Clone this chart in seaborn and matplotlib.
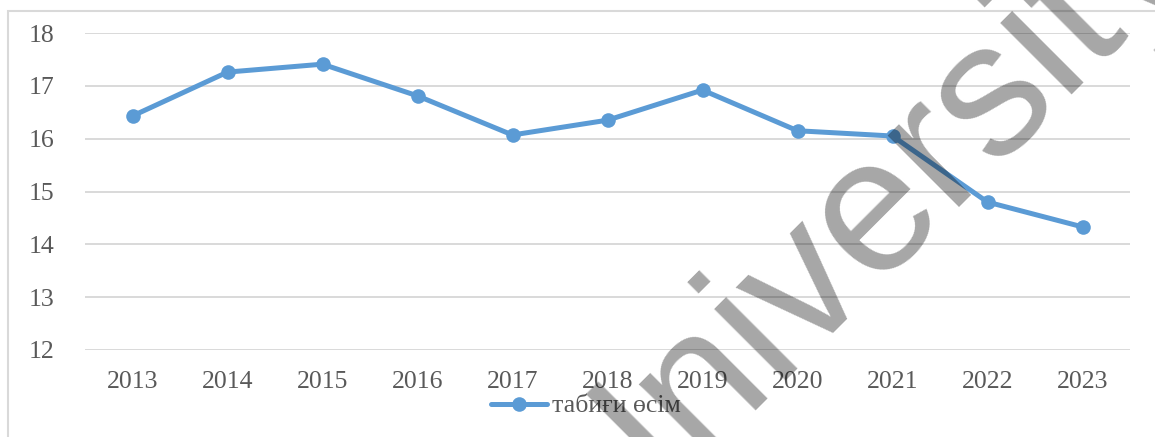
import matplotlib
matplotlib.use("Agg")
import matplotlib.pyplot as plt
import seaborn as sns
import pandas as pd
from matplotlib.patches import Rectangle

# Дерек: табиғи өсім (‰)
years = ["2013", "2014", "2015", "2016", "2017", "2018",
         "2019", "2020", "2021", "2022", "2023"]
natural_growth = [16.43, 17.26, 17.41, 16.81, 16.07, 16.35,
                  16.92, 16.15, 16.05, 14.80, 14.33]
y_ticks = [12, 13, 14, 15, 16, 17, 18]
series_name = "табиғи өсім"

df = pd.DataFrame({"year": years, "value": natural_growth, "series": series_name})

sns.set_style("white")
plt.rcParams["font.family"] = ["Liberation Serif", "DejaVu Serif"]

fig = plt.figure(figsize=(11.55, 4.37), dpi=100)
W, H = 1155, 437
ax = fig.add_axes([85 / W, 1 - 350 / H, (1130 - 85) / W, (350 - 33) / H])

# рамка диаграммы (выходит за край картинки)
fig.patches.append(Rectangle((8 / W, -0.1), 1.2, 1 - 11 / H + 0.1,
                             transform=fig.transFigure, fill=False,
                             edgecolor="#d9d9d9", linewidth=1.5))

sns.lineplot(data=df, x="year", y="value", hue="series", sort=False,
             palette={series_name: "#5b9bd5"}, marker="o", markersize=10.5,
             markeredgewidth=0, linewidth=3.6, ax=ax)

ax.set_xlim(-0.5, len(years) - 0.5)
ax.set_ylim(12, 18)
ax.set_yticks(y_ticks)
ax.yaxis.grid(True, color="#d9d9d9", linewidth=1.4)
ax.set_axisbelow(True)
for s in ax.spines.values():
    s.set_visible(False)
ax.tick_params(axis="both", length=0, labelsize=18.5, labelcolor="#595959")
ax.tick_params(axis="y", pad=22)
ax.tick_params(axis="x", pad=15)
ax.set_xlabel("")
ax.set_ylabel("")

leg = ax.legend(loc="center", bbox_to_anchor=(586 / W, 1 - 406 / H),
                bbox_transform=fig.transFigure, frameon=False,
                fontsize=18.5, handlelength=2.2, handletextpad=0.2,
                borderpad=0)
for t in leg.get_texts():
    t.set_color("#595959")

# водяной знак
fig.text(600 / W, 1 - 552 / H, "University", rotation=45,
         rotation_mode="anchor", ha="left", va="baseline",
         fontsize=138, family="Liberation Sans", color="black", alpha=0.35,
         zorder=10)

fig.savefig("out.png", dpi=100, facecolor="white")
